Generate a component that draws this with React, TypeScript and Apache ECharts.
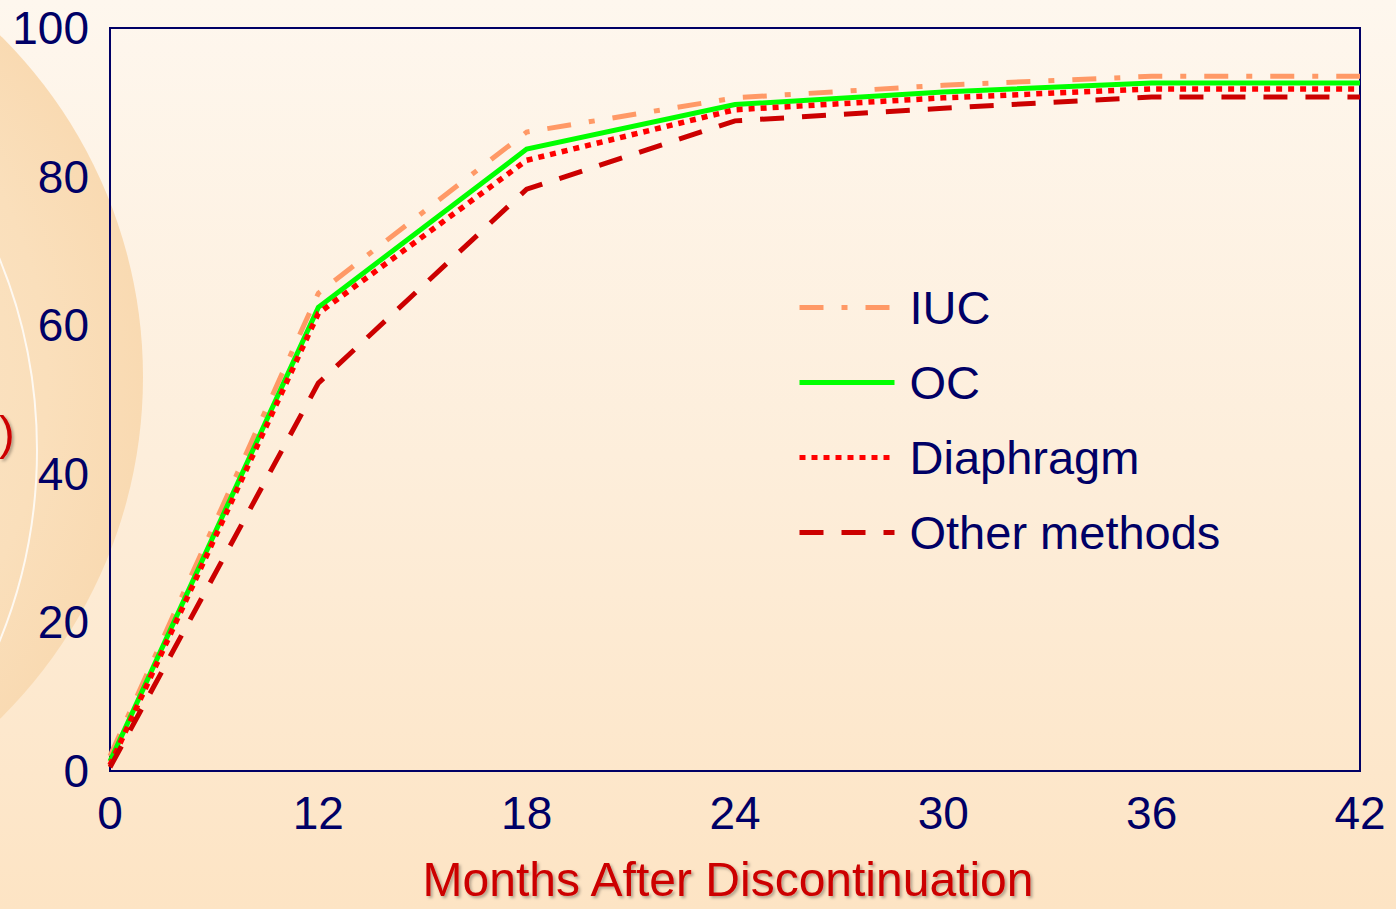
import React, { useEffect, useRef } from 'react';
import * as echarts from 'echarts';

const months = ['0', '12', '18', '24', '30', '36', '42'];
const iuc = [2, 64.3, 86, 90.6, 92.3, 93.5, 93.5];
const oc = [1.3, 62.4, 83.7, 89.7, 91.4, 92.6, 92.6];
const diaphragm = [0.8, 61.6, 82.2, 89.0, 90.6, 91.8, 91.8];
const otherMethods = [0.5, 52.2, 78.3, 87.5, 89.2, 90.7, 90.7];
const seriesNames = ['IUC', 'OC', 'Diaphragm', 'Other methods'];
const xTitle = 'Months After Discontinuation';
const yTitleTail = ')';

const NAVY = '#000066';
const FONT = '"Liberation Sans", Arial, Helvetica, sans-serif';

export default function App() {
  const ref = useRef<HTMLDivElement>(null);

  useEffect(() => {
    if (!ref.current) return;
    const chart = echarts.init(ref.current, undefined, { renderer: 'svg' });

    const mkLine = (name: string, data: number[], color: string, type: any, width: number, z: number) => ({
      name,
      type: 'line',
      data,
      symbol: 'none',
      z,
      lineStyle: { color, width, type, cap: 'butt', join: 'miter' },
      itemStyle: { color },
    });

    const option: any = {
      animation: false,
      backgroundColor: 'transparent',
      graphic: [
        {
          type: 'rect',
          silent: true,
          z: -10,
          shape: { x: 0, y: 0, width: 1396, height: 909 },
          style: {
            fill: new echarts.graphic.LinearGradient(0, 0, 0, 1, [
              { offset: 0, color: '#FEF7EE' },
              { offset: 0.5, color: '#FDEEDB' },
              { offset: 1, color: '#FDE4C4' },
            ]),
          },
        },
        {
          type: 'circle',
          silent: true,
          z: -9,
          shape: { cx: -337, cy: 377, r: 480 },
          style: {
            fill: new echarts.graphic.RadialGradient(0.5, 0.5, 0.5, [
              { offset: 0, color: '#FCE9CF' },
              { offset: 0.8, color: '#FADFBB' },
              { offset: 1, color: '#F9DAB2' },
            ]),
          },
        },
        {
          type: 'circle',
          silent: true,
          z: -8,
          shape: { cx: -469, cy: 450, r: 506 },
          style: { fill: 'none', stroke: 'rgba(255,255,255,0.8)', lineWidth: 2 },
        },
        {
          type: 'text',
          silent: true,
          z: 5,
          x: -1,
          y: 432,
          style: {
            text: yTitleTail,
            fill: '#CC0000',
            font: `47px ${FONT}`,
            align: 'left',
            verticalAlign: 'middle',
            textShadowColor: 'rgba(0,0,0,0.3)',
            textShadowBlur: 3,
            textShadowOffsetX: 2,
            textShadowOffsetY: 2,
          },
        },
      ],
      grid: {
        left: 110,
        top: 28,
        right: 36,
        bottom: 138,
        show: true,
        borderColor: NAVY,
        borderWidth: 2,
        backgroundColor: 'transparent',
        containLabel: false,
        outerBoundsMode: 'none',
      },
      legend: {
        orient: 'vertical',
        left: 797,
        top: 284,
        padding: 0,
        itemWidth: 95,
        itemHeight: 14,
        itemGap: 28,
        data: seriesNames,
        selectedMode: false,
        itemStyle: { opacity: 0 },
        lineStyle: { width: 5 },
        textStyle: {
          color: NAVY,
          fontSize: 47,
          fontFamily: FONT,
          lineHeight: 47,
          padding: [0, 0, 0, 10],
        },
      },
      xAxis: {
        type: 'category',
        data: months,
        boundaryGap: false,
        axisLine: { show: false },
        axisTick: { show: false },
        splitLine: { show: false },
        axisLabel: {
          interval: 0,
          color: NAVY,
          fontSize: 46,
          fontFamily: FONT,
          margin: 19,
        },
        name: xTitle,
        nameLocation: 'middle',
        nameGap: 84,
        nameTextStyle: {
          color: '#CC0000',
          fontSize: 48,
          lineHeight: 48,
          fontFamily: FONT,
          padding: [0, 14, 0, 0],
          textShadowColor: 'rgba(0,0,0,0.3)',
          textShadowBlur: 3,
          textShadowOffsetX: 2,
          textShadowOffsetY: 2,
        },
      },
      yAxis: {
        type: 'value',
        min: 0,
        max: 100,
        interval: 20,
        axisLine: { show: false },
        axisTick: { show: false },
        splitLine: { show: false },
        axisLabel: {
          color: NAVY,
          fontSize: 46,
          fontFamily: FONT,
          margin: 21,
        },
      },
      series: [
        mkLine(seriesNames[0], iuc, '#FF9966', [24, 18, 6, 18], 5, 2),
        mkLine(seriesNames[1], oc, '#00FF00', 'solid', 5, 3),
        mkLine(seriesNames[2], diaphragm, '#FF0000', [6, 6], 5.5, 4),
        mkLine(seriesNames[3], otherMethods, '#CC0000', [24, 18], 5, 5),
      ],
    };

    chart.setOption(option);
    return () => chart.dispose();
  }, []);

  return (
    <div
      ref={ref}
      style={{ position: 'fixed', left: 0, top: 0, width: 1396, height: 909, background: '#FDEEDB' }}
    />
  );
}
